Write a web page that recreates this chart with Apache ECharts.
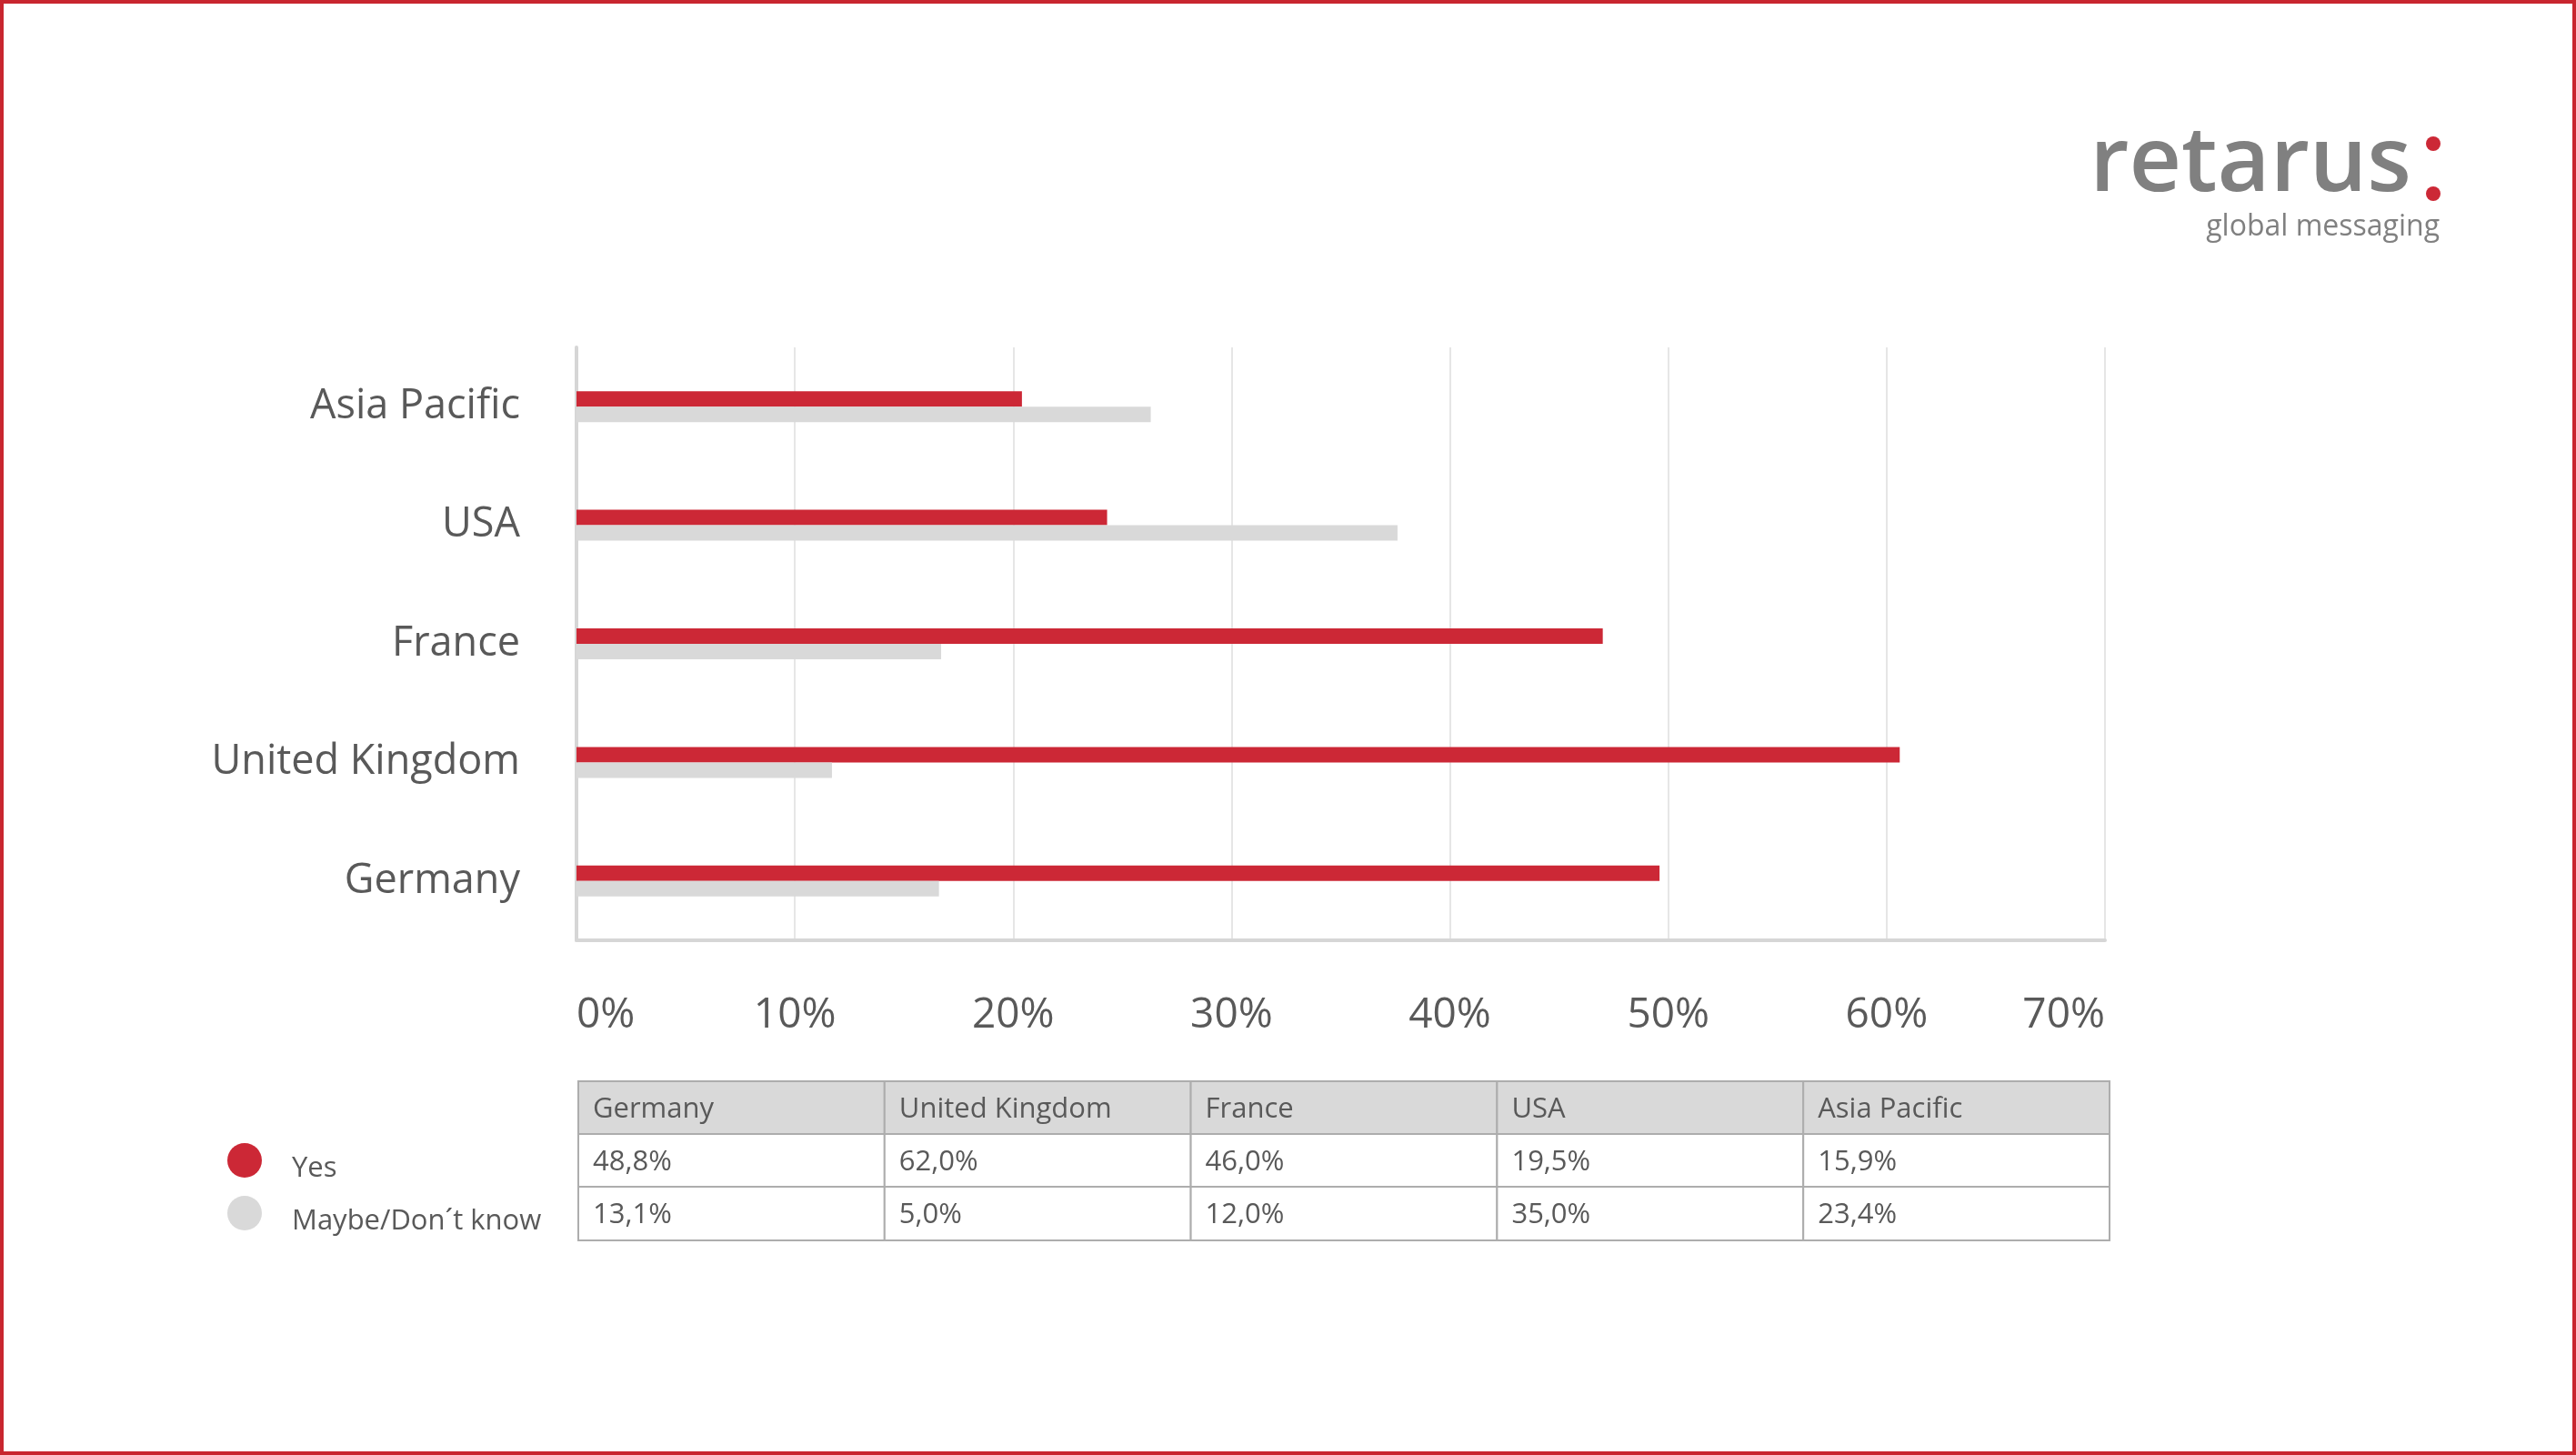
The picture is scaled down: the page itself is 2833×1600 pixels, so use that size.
<!DOCTYPE html>
<html><head><meta charset="utf-8">
<script src="https://cdn.jsdelivr.net/npm/echarts@6/dist/echarts.min.js"></script>
<style>html,body{margin:0;padding:0;background:#fff}#c{width:2833px;height:1600px}</style>
</head><body><div id="c"></div>
<script>
// categories bottom-to-top as drawn on the axis
var categories = ['Germany', 'United Kingdom', 'France', 'USA', 'Asia Pacific'];
// bar lengths as drawn in the picture (%)
var barYes = [49.6, 60.6, 47.0, 24.3, 20.4];
var barMaybe = [16.6, 11.7, 16.7, 37.6, 26.3];
// table texts
var tableYes = ['48,8%', '62,0%', '46,0%', '19,5%', '15,9%'];
var tableMaybe = ['13,1%', '5,0%', '12,0%', '35,0%', '23,4%'];
var seriesNames = ['Yes', 'Maybe/Don´t know'];
var colors = ['#cc2836', '#d9d9d9'];

var font = 'Open Sans';
var graphic = [];
// frame
graphic.push({type: 'rect', shape: {x: 2, y: 2, width: 2829, height: 1596},
    style: {fill: 'none', stroke: '#c8262f', lineWidth: 4}});
// logo
graphic.push({type: 'text', style: {text: 'retarus', x: 2652, y: 232, align: 'right', verticalAlign: 'bottom',
    font: '600 100px "' + font + '"', fill: '#808080'}});
graphic.push({type: 'circle', shape: {cx: 2676, cy: 158, r: 8}, style: {fill: '#cc2836'}});
graphic.push({type: 'circle', shape: {cx: 2676, cy: 213, r: 8}, style: {fill: '#cc2836'}});
graphic.push({type: 'text', style: {text: 'global messaging', x: 2683, y: 250, align: 'right', verticalAlign: 'middle',
    font: '32px "' + font + '"', fill: '#808080'}});
// table
var tx = 636, colW = 336.8, rowY = [1189, 1247, 1305, 1364];
var rows = [categories, tableYes, tableMaybe];
rows.forEach(function (row, r) {
    row.forEach(function (txt, c) {
        graphic.push({type: 'rect', shape: {x: tx + c * colW, y: rowY[r], width: colW, height: rowY[r + 1] - rowY[r]},
            style: {fill: r === 0 ? '#d9d9d9' : '#fff', stroke: '#adadad', lineWidth: 2}});
        graphic.push({type: 'text', style: {text: txt, x: tx + c * colW + 16, y: (rowY[r] + rowY[r + 1]) / 2 + 2,
            verticalAlign: 'middle', font: '31px "' + font + '"', fill: '#595959'}});
    });
});
// legend
seriesNames.forEach(function (n, i) {
    graphic.push({type: 'circle', shape: {cx: 269, cy: 1276 + i * 58, r: 19}, style: {fill: colors[i]}});
    graphic.push({type: 'text', style: {text: n, x: 321, y: 1285 + i * 58, verticalAlign: 'middle',
        font: '31px "' + font + '"', fill: '#595959'}});
});

var chart = echarts.init(document.getElementById('c'));
chart.setOption({
    animation: false,
    textStyle: {fontFamily: font},
    grid: {left: 634, right: 518, top: 382, bottom: 566},
    xAxis: {
        type: 'value', min: 0, max: 70, interval: 10,
        axisLabel: {formatter: '{value}%', fontSize: 46, color: '#595959', margin: 60, alignMinLabel: 'left', alignMaxLabel: 'right'},
        axisLine: {show: true, lineStyle: {color: '#d6d6d6', width: 4}},
        axisTick: {show: false},
        splitLine: {lineStyle: {color: '#e6e6e6', width: 2}}
    },
    yAxis: {
        type: 'category', data: categories,
        axisLabel: {fontSize: 45, color: '#595959', margin: 62},
        axisLine: {show: true, lineStyle: {color: '#d6d6d6', width: 4}},
        axisTick: {show: false}
    },
    series: [
        {name: seriesNames[0], type: 'bar', data: barYes, barWidth: 17, barGap: '0%', itemStyle: {color: colors[0]}},
        {name: seriesNames[1], type: 'bar', data: barMaybe, barWidth: 17, barGap: '0%', itemStyle: {color: colors[1]}}
    ],
    graphic: graphic
});
</script></body></html>
